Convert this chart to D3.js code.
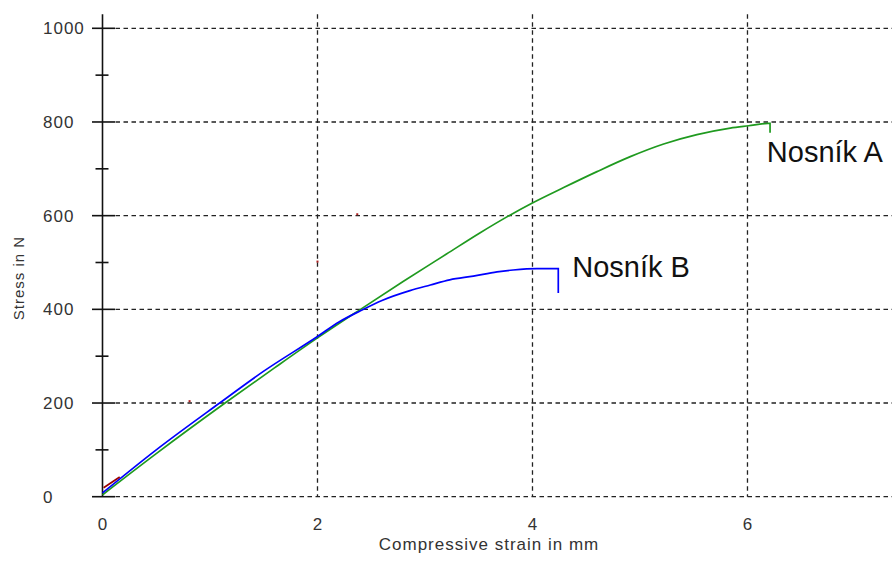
<!DOCTYPE html>
<html>
<head>
<meta charset="utf-8">
<script src="https://cdn.jsdelivr.net/npm/d3@7"></script>
<style>
  body { margin: 0; background: #fff; }
  svg { display: block; font-family: "Liberation Sans", Arial, sans-serif; }
  .grid line { stroke: #222; stroke-width: 1.3; stroke-dasharray: 4.5 3.5; }
  .axis line { stroke: #111; stroke-width: 1.6; }
  .tick-label { fill: #333; font-size: 17px; letter-spacing: 1px; }
  .title { fill: #333; letter-spacing: 1px; }
  .curve { fill: none; stroke-width: 1.7; stroke-linejoin: miter; }
  .series-label { fill: #111; font-size: 29px; }
</style>
</head>
<body>
<div id="chart"></div>
<script>
const W = 892
const H = 562

// tick values
const yMajor = [0, 200, 400, 600, 800, 1000]
const yMinor = [100, 300, 500, 700, 900]
const xMajor = [0, 2, 4, 6]
const xGrid = [2, 4, 6]

// Nosník A (green): [strain mm, stress N]
const beamA = [
  [0, 4], [0.5, 92], [1.14, 200], [1.6, 275], [2.0, 339], [2.4, 400],
  [2.8, 460], [3.2, 518], [3.51, 563], [3.79, 601], [3.99, 626],
  [4.29, 660], [4.6, 694], [4.91, 726], [5.22, 753], [5.53, 773],
  [5.84, 787], [6.01, 792], [6.19, 797], [6.21, 797]
]
const beamAEnd = [[6.21, 797], [6.21, 777]]

// Nosník B (blue)
const beamB = [
  [0, 8], [0.5, 100], [1.09, 200], [1.5, 268], [2.0, 342], [2.2, 373],
  [2.4, 397], [2.6, 419], [2.86, 440], [3.05, 452], [3.23, 463],
  [3.45, 471], [3.67, 480], [3.82, 484], [4.04, 487], [4.24, 487]
]
const beamBEnd = [[4.24, 487], [4.24, 435]]

// small dark red traces
const redTrace = [[0.01, 19], [0.16, 42]]
const redDots = [[0.81, 204], [2.0, 502], [2.37, 603]]

const labels = [
  { name: "Nosník A", x: 6.18, y: 715 },
  { name: "Nosník B", x: 4.37, y: 469 }
]

const x = d3.scaleLinear().domain([0, 7.35]).range([102.5, 892.6])
const y = d3.scaleLinear().domain([0, 1000]).range([496.7, 28.3])
const yTop = y(1030)

const svg = d3.select("#chart").append("svg")
  .attr("width", W)
  .attr("height", H)

// horizontal gridlines
svg.append("g")
  .attr("class", "grid")
  .selectAll("line")
  .data(yMajor)
  .join("line")
  .attr("x1", x(0) + 13)
  .attr("x2", W)
  .attr("y1", d => y(d))
  .attr("y2", d => y(d))

// vertical gridlines
svg.append("g")
  .attr("class", "grid")
  .selectAll("line")
  .data(xGrid)
  .join("line")
  .attr("x1", d => x(d))
  .attr("x2", d => x(d))
  .attr("y1", yTop)
  .attr("y2", y(0))

// y axis
const yAxis = svg.append("g").attr("class", "axis")
yAxis.append("line")
  .attr("x1", x(0)).attr("x2", x(0))
  .attr("y1", yTop).attr("y2", y(0))
yAxis.selectAll(".major")
  .data(yMajor)
  .join("line")
  .attr("class", "major")
  .attr("x1", x(0) - 10.5).attr("x2", x(0) + 12.5)
  .attr("y1", d => y(d)).attr("y2", d => y(d))
yAxis.selectAll(".minor")
  .data(yMinor)
  .join("line")
  .attr("class", "minor")
  .attr("x1", x(0) - 7).attr("x2", x(0) + 6)
  .attr("y1", d => y(d)).attr("y2", d => y(d))

svg.append("g")
  .selectAll("text")
  .data(yMajor)
  .join("text")
  .attr("class", "tick-label")
  .attr("x", 43)
  .attr("y", d => y(d))
  .attr("dy", "0.36em")
  .text(d => d)

svg.append("g")
  .selectAll("text")
  .data(xMajor)
  .join("text")
  .attr("class", "tick-label")
  .attr("text-anchor", "middle")
  .attr("x", d => x(d) + 0.5)
  .attr("y", 530)
  .text(d => d)

// axis titles
svg.append("text")
  .attr("class", "title")
  .attr("x", 489)
  .attr("y", 550)
  .attr("text-anchor", "middle")
  .style("font-size", "17px")
  .text("Compressive strain in mm")

svg.append("text")
  .attr("class", "title")
  .attr("transform", "translate(24,278) rotate(-90)")
  .attr("text-anchor", "middle")
  .style("font-size", "15px")
  .text("Stress in N")

// curves: smooth body, straight end drop
const smooth = d3.line()
  .x(d => x(d[0]))
  .y(d => y(d[1]))
  .curve(d3.curveMonotoneX)

const straight = d3.line()
  .x(d => x(d[0]))
  .y(d => y(d[1]))

const series = [
  { body: beamA, end: beamAEnd, color: "#1f9a1f" },
  { body: beamB, end: beamBEnd, color: "#0000ff" }
]

series.forEach(s => {
  svg.append("path")
    .attr("class", "curve")
    .attr("stroke", s.color)
    .attr("d", smooth(s.body) + straight(s.end).replace(/^M[^L]*/, ""))
})

svg.append("path")
  .datum(redTrace)
  .attr("class", "curve")
  .attr("stroke", "#9a0000")
  .attr("d", straight)

svg.append("g")
  .selectAll("rect")
  .data(redDots)
  .join("rect")
  .attr("x", d => x(d[0]) - 1)
  .attr("y", d => y(d[1]) - 1)
  .attr("width", 2)
  .attr("height", 2)
  .attr("fill", "#b02020")

// series labels
svg.append("g")
  .selectAll("text")
  .data(labels)
  .join("text")
  .attr("class", "series-label")
  .attr("x", d => x(d.x))
  .attr("y", d => y(d.y))
  .text(d => d.name)
</script>
</body>
</html>
